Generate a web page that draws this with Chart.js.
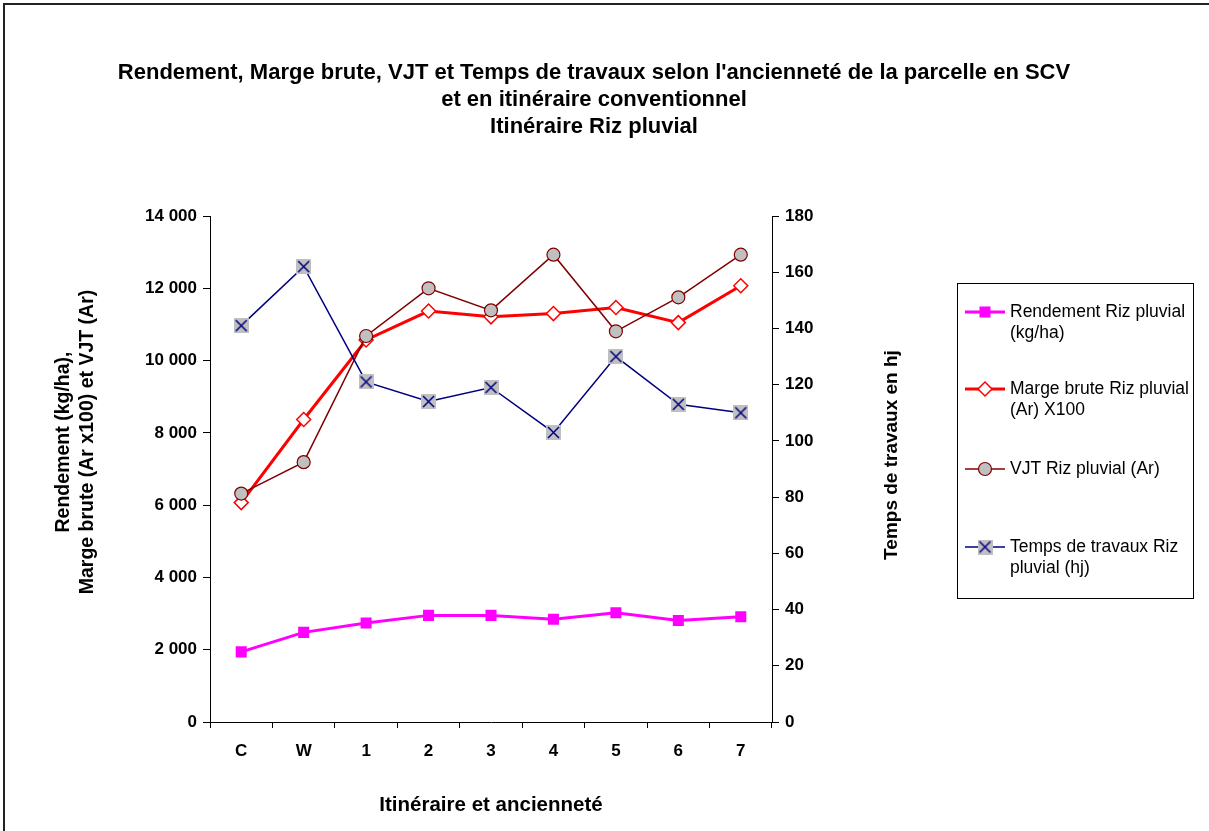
<!DOCTYPE html>
<html>
<head>
<meta charset="utf-8">
<script src="https://cdn.jsdelivr.net/npm/chart.js@4.4.1/dist/chart.umd.min.js"></script>
<style>
  html, body { margin: 0; padding: 0; background: #fff; }
</style>
</head>
<body>
<canvas id="myChart" width="1209" height="831"></canvas>
<script>
const ctx = document.getElementById('myChart');

// Data
const categories = ['C', 'W', '1', '2', '3', '4', '5', '6', '7'];
const rendement = [1940, 2480, 2740, 2950, 2950, 2840, 3020, 2810, 2910];
const margeBrute = [6070, 8370, 10570, 11370, 11210, 11300, 11470, 11050, 12070];
const vjt = [6320, 7190, 10680, 12000, 11390, 12930, 10810, 11750, 12930];
const tempsTravaux = [141, 162, 121, 114, 119, 103, 130, 113, 110];

const leftAxis = { min: 0, max: 14000, step: 2000 };
const rightAxis = { min: 0, max: 180, step: 20 };

const seriesNames = [
  ['Rendement Riz pluvial', '(kg/ha)'],
  ['Marge brute Riz pluvial', '(Ar) X100'],
  ['VJT Riz pluvial (Ar)'],
  ['Temps de travaux Riz', 'pluvial (hj)']
];
const leftTitle = ['Rendement (kg/ha),', 'Marge brute (Ar x100) et VJT (Ar)'];
const rightTitle = 'Temps de travaux en hj';

const FONT = '"Liberation Sans", Arial, sans-serif';
Chart.defaults.color = '#000';
Chart.defaults.font.family = FONT;

// gray square with a navy cross, used for the "Temps de travaux" points
function crossMarker() {
  const c = document.createElement('canvas');
  c.width = 15; c.height = 15;
  const g = c.getContext('2d');
  g.fillStyle = '#c0c0c0';
  g.fillRect(0, 0, 15, 15);
  g.strokeStyle = '#000080';
  g.lineWidth = 1.5;
  g.beginPath();
  g.moveTo(2, 2); g.lineTo(13, 13);
  g.moveTo(13, 2); g.lineTo(2, 13);
  g.stroke();
  return c;
}
const xMark = crossMarker();

function spaced(v) {
  return String(v).replace(/\B(?=(\d{3})+(?!\d))/g, ' ');
}

const tickFont = { size: 17, weight: 'bold' };

// white background, frame, vertical axis titles and legend box
const decorations = {
  id: 'decorations',
  beforeDraw(chart) {
    const c = chart.ctx;
    c.save();
    c.fillStyle = '#fff';
    c.fillRect(0, 0, chart.width, chart.height);
    c.strokeStyle = '#222';
    c.lineWidth = 2;
    c.beginPath();
    c.moveTo(4, chart.height);
    c.lineTo(4, 4);
    c.lineTo(chart.width, 4);
    c.stroke();
    c.restore();
  },
  afterDraw(chart) {
    const c = chart.ctx;

    // axis titles, reading bottom to top
    c.save();
    c.font = 'bold 19.5px ' + FONT;
    c.textAlign = 'center';
    c.textBaseline = 'middle';
    c.save();
    c.translate(64, 442);
    c.rotate(-Math.PI / 2);
    leftTitle.forEach((t, k) => c.fillText(t, 0, k * 24));
    c.restore();
    c.translate(892, 455);
    c.rotate(-Math.PI / 2);
    c.font = 'bold 19px ' + FONT;
    c.fillText(rightTitle, 0, 0);
    c.restore();

    // legend
    c.save();
    c.strokeStyle = '#000';
    c.lineWidth = 1;
    c.strokeRect(957.5, 283.5, 236, 315);
    const rows = [312, 389, 469, 547];
    c.font = '17.5px ' + FONT;
    c.textBaseline = 'middle';
    chart.data.datasets.forEach((ds, i) => {
      const y = rows[i];
      c.strokeStyle = ds.borderColor;
      c.lineWidth = ds.borderWidth;
      c.beginPath();
      c.moveTo(965, y);
      c.lineTo(1005, y);
      c.stroke();
      c.fillStyle = ds.pointBackgroundColor;
      c.strokeStyle = ds.pointBorderColor;
      c.lineWidth = ds.pointBorderWidth;
      Chart.helpers.drawPoint(c, {
        pointStyle: ds.pointStyle,
        radius: ds.pointRadius,
        rotation: 0,
        borderWidth: ds.pointBorderWidth
      }, 985, y);
      c.fillStyle = '#000';
      seriesNames[i].forEach((t, k) => c.fillText(t, 1010, y + k * 21));
    });
    c.restore();
  }
};

new Chart(ctx, {
  type: 'line',
  data: {
    labels: categories,
    datasets: [{
      label: 'Rendement Riz pluvial (kg/ha)',
      data: rendement,
      yAxisID: 'y',
      borderColor: '#ff00ff',
      borderWidth: 3,
      pointStyle: 'rect',
      pointRadius: 7.8,
      pointBackgroundColor: '#ff00ff',
      pointBorderColor: '#ff00ff',
      pointBorderWidth: 0,
      order: 4
    }, {
      label: 'Marge brute Riz pluvial (Ar) X100',
      data: margeBrute,
      yAxisID: 'y',
      borderColor: '#ff0000',
      borderWidth: 3,
      pointStyle: 'rectRot',
      pointRadius: 7,
      pointBackgroundColor: '#ffffff',
      pointBorderColor: '#ff0000',
      pointBorderWidth: 1.5,
      order: 3
    }, {
      label: 'VJT Riz pluvial (Ar)',
      data: vjt,
      yAxisID: 'y',
      borderColor: '#800000',
      borderWidth: 1.5,
      pointStyle: 'circle',
      pointRadius: 6.5,
      pointBackgroundColor: '#c0c0c0',
      pointBorderColor: '#800000',
      pointBorderWidth: 1.2,
      order: 2
    }, {
      label: 'Temps de travaux Riz pluvial (hj)',
      data: tempsTravaux,
      yAxisID: 'y1',
      borderColor: '#000080',
      borderWidth: 1.5,
      pointStyle: xMark,
      pointRadius: 7.5,
      pointBackgroundColor: '#c0c0c0',
      pointBorderColor: '#000080',
      pointBorderWidth: 0,
      order: 1
    }]
  },
  options: {
    responsive: false,
    animation: false,
    devicePixelRatio: 1,
    layout: { padding: { left: 0, right: 21, top: 0, bottom: 0 } },
    elements: { line: { tension: 0 } },
    plugins: {
      legend: { display: false },
      tooltip: { enabled: false },
      title: {
        display: true,
        text: [
          "Rendement, Marge brute, VJT et Temps de travaux selon l'ancienneté de la parcelle en SCV",
          'et en itinéraire conventionnel',
          'Itinéraire Riz pluvial'
        ],
        font: { size: 22, weight: 'bold', lineHeight: '27px' },
        padding: { top: 59.5, bottom: 75.5 }
      }
    },
    scales: {
      x: {
        offset: true,
        grid: { offset: true, drawOnChartArea: false, drawTicks: true, tickLength: 6, color: '#000' },
        border: { display: true, color: '#000', width: 1 },
        ticks: { font: tickFont, padding: 13, autoSkip: false, maxRotation: 0 },
        title: {
          display: true,
          text: 'Itinéraire et ancienneté',
          font: { size: 20.5, weight: 'bold', lineHeight: '24px' },
          padding: { top: 0, bottom: 14 }
        },
        afterFit: s => { s.height = 109; }
      },
      y: {
        position: 'left',
        min: leftAxis.min,
        max: leftAxis.max,
        grid: { drawOnChartArea: false, tickLength: 7, color: '#000' },
        border: { display: true, color: '#000', width: 1 },
        ticks: { stepSize: leftAxis.step, font: tickFont, padding: 6, callback: v => spaced(v) },
        afterFit: s => { s.width = 210; }
      },
      y1: {
        position: 'right',
        min: rightAxis.min,
        max: rightAxis.max,
        grid: { drawOnChartArea: false, tickLength: 7, color: '#000' },
        border: { display: true, color: '#000', width: 1 },
        ticks: { stepSize: rightAxis.step, font: tickFont, padding: 6 },
        afterFit: s => { s.width = 416; }
      }
    }
  },
  plugins: [decorations]
});
</script>
</body>
</html>
